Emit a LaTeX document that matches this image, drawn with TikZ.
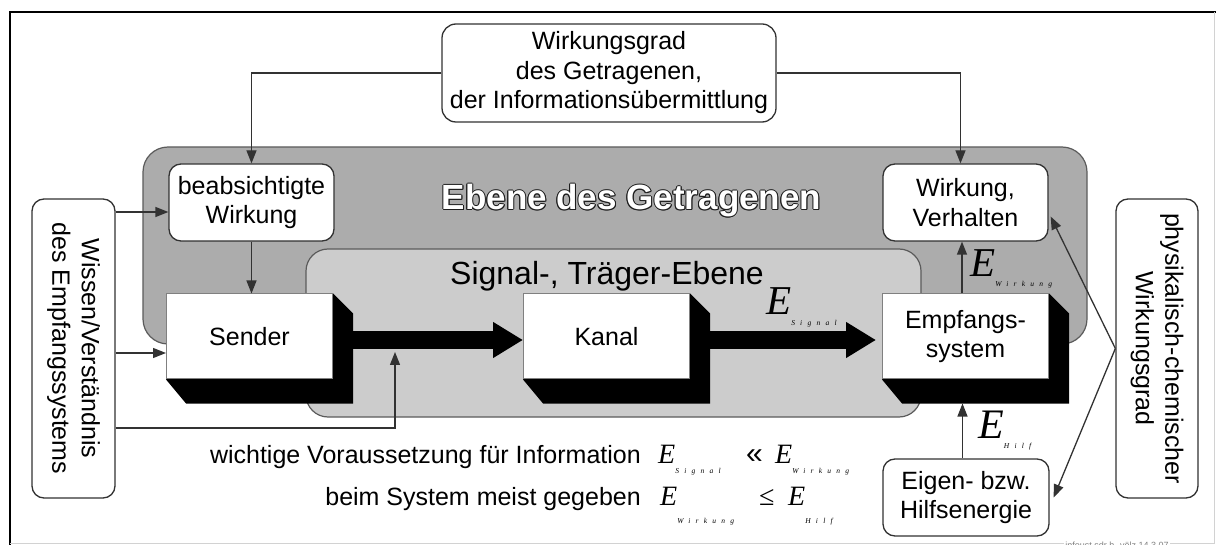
\documentclass[tikz,border=0pt]{standalone}
\usepackage{fontspec}
\setmainfont{Liberation Sans}
\newfontfamily\subsp[LetterSpace=70]{Liberation Serif}
\newfontfamily\eserif{Liberation Serif}
\usetikzlibrary{arrows.meta,calc}
\definecolor{pdark}{RGB}{172,172,172}
\definecolor{plight}{RGB}{204,204,204}
\definecolor{edge}{RGB}{50,50,50}
\definecolor{outl}{RGB}{30,30,30}
\pgfdeclarelayer{bg}
\pgfdeclarelayer{mid}
\pgfsetlayers{bg,mid,main}

\newcommand\fsz{\fontsize{25}{29.5}\selectfont}
% energy symbol with a small, widely tracked index set below it
\newcommand\Esub[3]{{\eserif\itshape\fontsize{#1}{#1}\selectfont E\/}\raisebox{-#2}{\subsp\itshape\fontsize{7.5}{8}\selectfont #3}}
% white lettering with a thin dark outline
\newcommand\hollow[1]{\leavevmode
  \foreach \dx/\dy in {1/0,-1/0,0/1,0/-1,0.7/0.7,0.7/-0.7,-0.7/0.7,-0.7/-0.7}{%
    \rlap{\kern\dx pt\raisebox{\dy pt}{\textcolor{outl}{#1}}}}%
  \textcolor{white}{#1}}

\begin{document}
\begin{tikzpicture}[x=1pt,y=-1pt,
  rbox/.style={draw=edge, line width=1.3pt, fill=white, rounded corners=12pt,
    align=center, font=\fsz, inner sep=0pt},
  face/.style={draw=gray, line width=1pt, fill=white, align=center, font=\fsz,
    inner sep=0pt, minimum width=166pt, minimum height=85pt},
  conn/.style={draw=edge, line width=1.3pt, -{Triangle[length=13pt,width=10pt]}},
  bigarrow/.style={draw=black, line width=18pt, -{Triangle[length=30pt,width=34pt]}},
  panel/.style={draw=edge!80, line width=1.2pt, inner sep=0pt},
  elab/.style={inner sep=0pt, anchor=base west},
  txt/.style={font=\fsz, inner sep=0pt}
]
\useasboundingbox (0,0) rectangle (1216,545);

% outer frame
\draw[line width=1.5pt] (10,545) -- (10,12) -- (1216,12);
\draw[gray!35, line width=1pt] (1214,12) -- (1214,543) -- (10,543);

% the two levels
\begin{pgfonlayer}{bg}
  \node[panel, fill=pdark, rounded corners=25pt, minimum width=944pt, minimum height=197pt] (ebene) at (615,245.5) {};
  \node[panel, fill=plight, rounded corners=22pt, minimum width=615pt, minimum height=168pt] (traeger) at (613.5,333) {};
  \node[inner sep=0pt, anchor=base, font=\fontsize{35}{40}\selectfont\bfseries] (ebtitle) at (631.5,210) {\hollow{Ebene des Getragenen}};
  \node[inner sep=0pt, anchor=base, font=\fontsize{32}{36}\selectfont] (trtitle) at (607,285) {Signal-, Träger-Ebene};
\end{pgfonlayer}

% blocks
\node[face] (sender) at (249.5,336.5) {Sender};
\node[face] (kanal) at (606.5,336.5) {Kanal};
\node[face] (empf) at (965.5,336.5) {Empfangs-\\system};

\node[rbox, rounded corners=14pt, minimum width=334pt, minimum height=98pt] (top) at (609,73)
  {Wirkungsgrad\\des Getragenen,\\der Informationsübermittlung};
\node[rbox, minimum width=165pt, minimum height=77pt] (beab) at (251.5,202.5) {beabsichtigte\\Wirkung};
\node[rbox, minimum width=165pt, minimum height=77pt] (wirk) at (965.5,202.5) {Wirkung,\\Verhalten};
\node[rbox, minimum width=166pt, minimum height=77pt] (eigen) at (966,497.5) {Eigen- bzw.\\Hilfsenergie};
\node[rbox, rotate=-90, minimum width=299pt, minimum height=83pt] (wissen) at (73.5,348.5)
  {Wissen/Verständnis\\des Empfangssystems};
\node[rbox, rotate=-90, minimum width=299pt, minimum height=82pt] (phys) at (1157,348.5)
  {physikalisch-chemischer\\Wirkungsgrad};

% block depth and the signal path
\begin{pgfonlayer}{mid}
  \foreach \b in {sender,kanal,empf}{
    \fill[black] (\b.north east) -- ($(\b.north east)+(20,20)$) -- ($(\b.south east)+(20,24)$)
      -- ($(\b.south west)+(20,24)$) -- (\b.south west) -- cycle;}
  \draw[bigarrow] ([yshift=-3.5pt]sender.east) -- ([yshift=-3.5pt]kanal.west);
  \draw[bigarrow, shorten >=6pt] ([yshift=-3.5pt]kanal.east) -- ([yshift=-3.5pt]empf.west);
\end{pgfonlayer}

% thin connectors
\draw[conn] (top.west) -| (beab.north);
\draw[conn] (top.east) -| ([xshift=-5pt]wirk.north);
\draw[conn] (beab.south) -- (beab.south |- sender.north);
\coordinate (b1) at ($(beab.west)+(0,9.5)$);
\draw[conn] (wissen.north |- b1) -- (b1);
\coordinate (s1) at ($(sender.west)+(0,16.5)$);
\draw[conn] (wissen.north |- s1) -- (s1);
\coordinate (k3) at (395,428);
\coordinate (sig) at (395,352);
\draw[conn] (wissen.north |- k3) -- (k3) -- (sig);
\draw[conn] ([xshift=-3.5pt]empf.north) -- ([xshift=-3.5pt]wirk.south);
\coordinate (eb) at ($(empf.south)+(-3,24)$);
\draw[conn] (eigen.north -| eb) -- (eb);
\draw[conn] (phys.south) -- ([xshift=2pt,yshift=-14pt]wirk.east);
\draw[conn] (phys.south) -- ([xshift=4pt]eigen.east);

% energy labels
\node[elab] (esig) at (766,315) {\Esub{41pt}{11pt}{Signal}};
\node[elab] (ewirk) at (970,277) {\Esub{41pt}{10pt}{Wirkung}};
\node[elab] (ehilf) at (978,438) {\Esub{42pt}{10pt}{Hilf}};

% conditions
\node[txt, anchor=base east] (cond1) at (641,463) {wichtige Voraussetzung für Information};
\node[elab] (e1) at (658,463) {\Esub{28pt}{10pt}{Signal}};
\node[elab, font=\fontsize{30}{30}\selectfont] (ll) at (746,463) {«};
\node[elab] (e2) at (775,463) {\Esub{28pt}{10pt}{Wirkung}};
\node[txt, anchor=base east] (cond2) at (641,505) {beim System meist gegeben};
\node[elab] (e3) at (660,505) {\Esub{28pt}{18pt}{Wirkung}};
\node[elab] (le) at (759,505) {\eserif\fontsize{28}{28}\selectfont ≤};
\node[elab] (e4) at (788,505) {\Esub{28pt}{18pt}{Hilf}};

\node[inner sep=1pt, fill=white, text=gray, font=\fontsize{9}{10}\selectfont, anchor=base] (credit)
  at (1117,548) {infoust.sdr h. völz 14.3.07};
\end{tikzpicture}
\end{document}
